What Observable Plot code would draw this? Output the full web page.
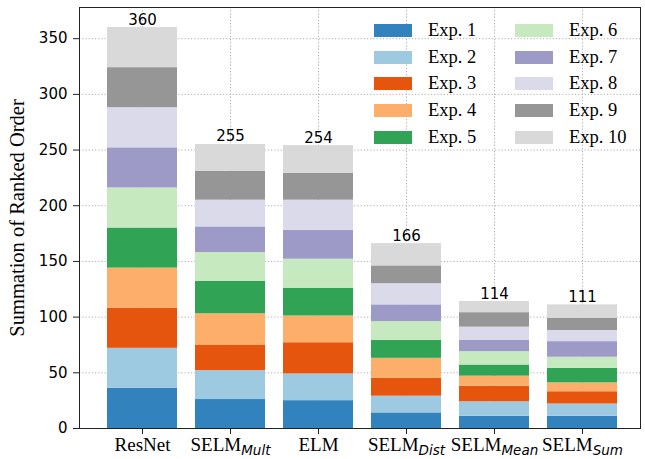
<!DOCTYPE html>
<html>
<head>
<meta charset="utf-8">
<script src="https://cdn.jsdelivr.net/npm/d3@7"></script>
<script src="https://cdn.jsdelivr.net/npm/@observablehq/plot@0.6"></script>
<style>
  html, body { margin: 0; padding: 0; background: #fff; }
  #wrap { position: relative; width: 645px; height: 459px; }
  #legend { position: absolute; left: 374px; top: 17px; display: grid; grid-template-columns: 141px 120px; grid-auto-flow: column; grid-template-rows: repeat(5, 26.7px); font-family: "Liberation Serif", serif; font-size: 18.5px; color: #000; }
  #legend .item { display: flex; align-items: center; height: 26.7px; }
  #legend .sw { width: 38px; height: 13px; margin-right: 16px; }
</style>
</head>
<body>
<div id="wrap"><div id="legend"></div></div>
<script>
const categories = ["ResNet", "SELM_Mult", "ELM", "SELM_Dist", "SELM_Mean", "SELM_Sum"];
const experiments = ["Exp. 1", "Exp. 2", "Exp. 3", "Exp. 4", "Exp. 5", "Exp. 6", "Exp. 7", "Exp. 8", "Exp. 9", "Exp. 10"];
const colors = ["#3182bd", "#9ecae1", "#e6550d", "#fdae6b", "#31a354", "#c7e9c0", "#9e9ac8", "#dadaeb", "#969696", "#d9d9d9"];
// values per experiment, in category order
const exp1  = [36, 26, 25, 14, 11, 11];
const exp2  = [36, 26, 24, 15, 13, 11];
const exp3  = [36, 23, 28, 16, 14, 11];
const exp4  = [36, 28, 24, 18,  9,  8];
const exp5  = [36, 29, 25, 16, 10, 13];
const exp6  = [36, 26, 26, 17, 12, 10];
const exp7  = [36, 23, 26, 15, 10, 14];
const exp8  = [36, 24, 27, 19, 12, 10];
const exp9  = [36, 26, 24, 16, 13, 11];
const exp10 = [36, 24, 25, 20, 10, 12];
const yTicks = [0, 50, 100, 150, 200, 250, 300, 350];
const yLabel = "Summation of Ranked Order";

const series = [exp1, exp2, exp3, exp4, exp5, exp6, exp7, exp8, exp9, exp10];
const data = [];
series.forEach((vals, i) => vals.forEach((v, j) => data.push({exp: experiments[i], cat: categories[j], value: v})));

const plot = Plot.plot({
  width: 645,
  height: 459,
  marginLeft: 79,
  marginRight: 5,
  marginTop: 7,
  marginBottom: 31,
  style: {background: "#fff", overflow: "visible"},
  x: {domain: categories, range: [105, 618.5], paddingInner: 0.2, paddingOuter: 0, align: 0.5},
  y: {domain: [0, 378]},
  color: {domain: experiments, range: colors},
  marks: [
    Plot.gridY(yTicks, {stroke: "#b0b0b0", strokeOpacity: 1, strokeDasharray: "1.2,2", strokeWidth: 1}),
    Plot.gridX(categories, {stroke: "#b0b0b0", strokeOpacity: 1, strokeDasharray: "1.2,2", strokeWidth: 1}),
    Plot.barY(data, {x: "cat", y: "value", fill: "exp", z: "exp", order: null}),
    Plot.text(data, Plot.groupX({y: "sum", text: "sum"}, {x: "cat", y: "value", text: "value", dy: -3, lineAnchor: "bottom", fontFamily: "DejaVu Sans", fontSize: 15, fill: "#000"})),
    Plot.axisY({ticks: yTicks, tickSize: 6, tickPadding: 6, fontFamily: "DejaVu Sans", fontSize: 15, label: yLabel, labelAnchor: "center", labelArrow: "none", labelOffset: 70, stroke: "#222", color: "#000"}),
    Plot.axisX({tickSize: 6, tickPadding: 3, label: null, stroke: "#222", color: "#000"}),
    Plot.frame({stroke: "#222", strokeWidth: 1})
  ]
});

const ns = "http://www.w3.org/2000/svg";
const serif = "font-family: 'Liberation Serif', serif; font-size: 19px;";
plot.querySelectorAll("text").forEach(t => {
  if (t.textContent === yLabel) t.setAttribute("style", "font-family: 'Liberation Serif', serif; font-size: 20.5px;");
});
plot.querySelectorAll('[aria-label="x-axis tick label"] text').forEach(t => {
  t.setAttribute("style", serif);
  const s = t.textContent;
  if (s.includes("_")) {
    const [a, b] = s.split("_");
    t.textContent = "";
    const t1 = document.createElementNS(ns, "tspan");
    t1.textContent = a;
    const t2 = document.createElementNS(ns, "tspan");
    t2.textContent = b;
    t2.setAttribute("style", "font-family: 'DejaVu Sans', sans-serif; font-style: italic; font-size: 13.5px;");
    t2.setAttribute("dy", "0.3em");
    t.appendChild(t1);
    t.appendChild(t2);
  }
});

const wrap = document.getElementById("wrap");
wrap.insertBefore(plot, wrap.firstChild);

const legend = document.getElementById("legend");
experiments.forEach((e, i) => {
  const item = document.createElement("div");
  item.className = "item";
  const sw = document.createElement("div");
  sw.className = "sw";
  sw.style.background = colors[i];
  const label = document.createElement("span");
  label.textContent = e;
  item.appendChild(sw);
  item.appendChild(label);
  legend.appendChild(item);
});
</script>
</body>
</html>
